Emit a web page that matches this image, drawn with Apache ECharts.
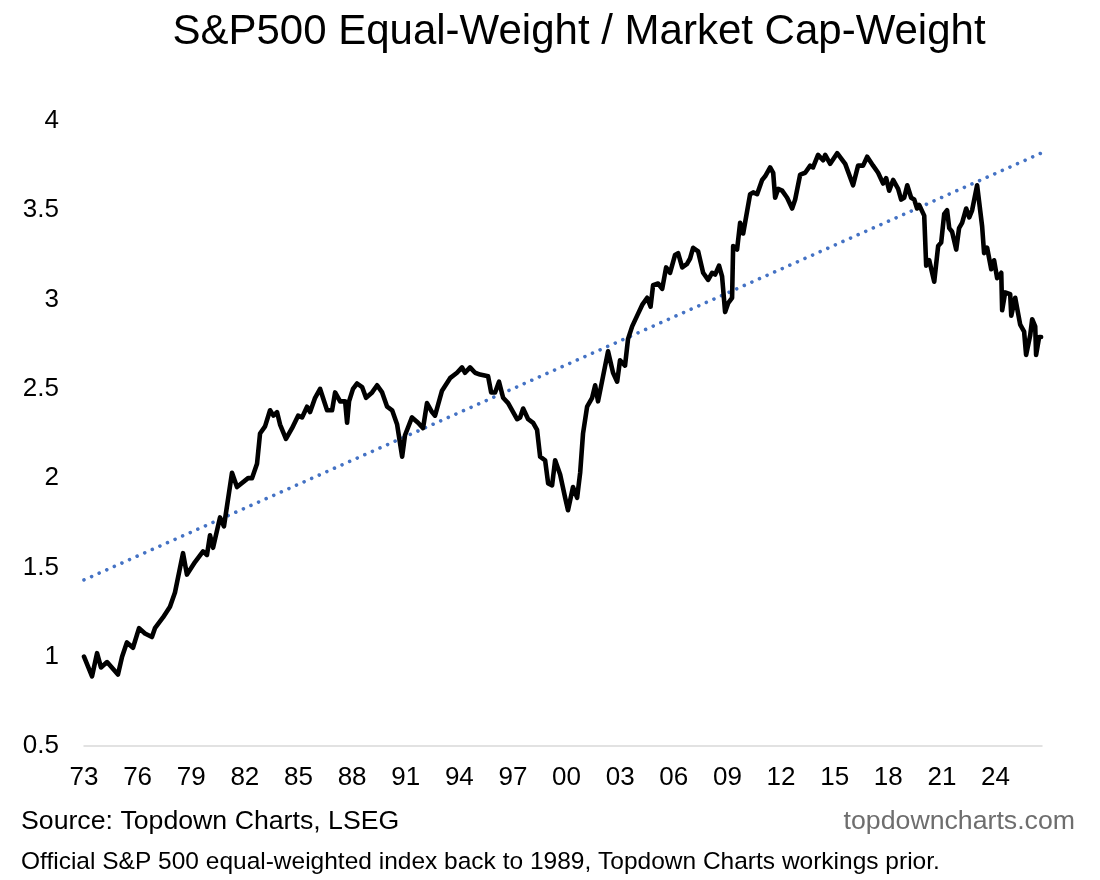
<!DOCTYPE html>
<html>
<head>
<meta charset="utf-8">
<script src="https://cdn.jsdelivr.net/npm/echarts@6/dist/echarts.min.js"></script>
<style>
html,body{margin:0;padding:0;background:#fff;}
#chart{width:1100px;height:880px;}
</style>
</head>
<body>
<div id="chart"></div>
<script>
// Decimal years of each reading
const years = [
 1973.0,1973.45,1973.73,1973.95,1974.29,1974.9,1975.13,1975.4,1975.74,1976.08,1976.41,1976.8,1976.97,
 1977.42,1977.81,1978.09,1978.54,1978.76,1979.21,1979.66,1979.88,1980.05,1980.22,1980.61,1980.83,
 1981.28,1981.56,1982.18,1982.4,1982.68,1982.85,1983.13,1983.41,1983.6,1983.8,1983.97,1984.30,1984.64,
 1984.98,1985.2,1985.48,1985.65,1985.93,1986.21,1986.37,1986.6,1986.88,1987.05,1987.33,1987.61,1987.72,
 1987.83,1988.05,1988.28,1988.56,1988.78,1989.12,1989.4,1989.68,1989.96,1990.24,1990.52,1990.8,1990.96,
 1991.35,1991.69,1991.97,1992.19,1992.47,1992.64,1993.03,1993.48,1993.87,1994.15,1994.32,1994.6,1994.88,
 1995.16,1995.61,1995.78,1996.0,1996.22,1996.45,1996.73,1997.01,1997.23,1997.4,1997.57,1997.85,1998.13,
 1998.35,1998.52,1998.8,1998.97,1999.19,1999.36,1999.64,1999.92,2000.08,2000.36,2000.59,2000.76,2000.92,
 2001.15,2001.43,2001.6,2001.76,2002.04,2002.32,2002.6,2002.83,2002.99,2003.27,2003.44,2003.67,2003.95,
 2004.23,2004.51,2004.7,2004.84,2005.12,2005.35,2005.57,2005.79,2006.07,2006.24,2006.47,2006.74,2006.91,
 2007.08,2007.36,2007.64,2007.92,2008.14,2008.31,2008.53,2008.7,2008.87,2009.04,2009.26,2009.32,2009.54,
 2009.71,2009.88,2010.27,2010.44,2010.66,2010.94,2011.11,2011.39,2011.56,2011.67,2011.84,2012.06,2012.34,
 2012.62,2012.79,2013.07,2013.35,2013.63,2013.79,2014.07,2014.35,2014.47,2014.75,2015.14,2015.59,2016.03,
 2016.31,2016.59,2016.82,2017.15,2017.43,2017.71,2017.88,2018.05,2018.27,2018.55,2018.72,2018.89,2019.06,
 2019.28,2019.45,2019.61,2019.73,2020.01,2020.12,2020.29,2020.57,2020.79,2020.96,2021.13,2021.29,2021.41,
 2021.57,2021.8,2021.96,2022.13,2022.36,2022.53,2022.69,2022.97,2023.25,2023.36,2023.53,2023.76,2023.92,
 2024.09,2024.32,2024.37,2024.54,2024.82,2024.88,2025.1,2025.38,2025.6,2025.71,2025.94,2026.05,2026.22,
 2026.27,2026.44,2026.55
];
// Equal-weight / cap-weight ratio
const ratio = [
 1.00,0.89,1.02,0.94,0.97,0.90,1.00,1.08,1.05,1.16,1.13,1.11,1.16,
 1.22,1.28,1.36,1.58,1.46,1.53,1.59,1.57,1.68,1.61,1.78,1.73,
 2.03,1.95,2.00,2.00,2.08,2.25,2.29,2.38,2.35,2.37,2.30,2.22,2.28,
 2.35,2.34,2.40,2.37,2.45,2.50,2.45,2.38,2.38,2.48,2.43,2.43,2.31,
 2.43,2.50,2.53,2.51,2.45,2.48,2.52,2.48,2.40,2.38,2.30,2.12,2.24,
 2.34,2.31,2.28,2.42,2.37,2.35,2.49,2.56,2.59,2.62,2.59,2.62,2.59,
 2.58,2.57,2.48,2.48,2.54,2.45,2.42,2.37,2.33,2.34,2.39,2.33,2.31,
 2.27,2.12,2.10,1.97,1.96,2.10,2.02,1.89,1.82,1.95,1.89,2.03,2.25,
 2.40,2.45,2.52,2.43,2.57,2.71,2.59,2.54,2.66,2.63,2.78,2.85,2.91,
 2.97,3.01,2.96,3.08,3.09,3.06,3.18,3.15,3.25,3.26,3.18,3.20,3.23,
 3.29,3.27,3.15,3.11,3.15,3.14,3.19,3.13,2.93,2.98,3.01,3.30,3.28,
 3.43,3.37,3.59,3.60,3.59,3.67,3.69,3.74,3.71,3.57,3.62,3.61,3.57,
 3.51,3.56,3.70,3.71,3.75,3.74,3.81,3.78,3.81,3.76,3.82,3.76,3.64,
 3.75,3.75,3.80,3.75,3.71,3.65,3.68,3.61,3.67,3.62,3.56,3.57,3.64,
 3.57,3.56,3.51,3.53,3.47,3.19,3.22,3.10,3.30,3.32,3.48,3.50,3.40,
 3.38,3.28,3.40,3.43,3.51,3.46,3.50,3.64,3.41,3.26,3.29,3.17,3.22,
 3.12,3.15,2.94,3.04,3.03,2.91,3.01,2.86,2.82,2.69,2.80,2.89,2.85,
 2.69,2.79,2.79
];
// Linear trend endpoints
const trendYears = [1973.0, 2026.55];
const trendValues = [1.43, 3.82];
// Axis settings
const BASE_YEAR = 1973;
const X_END_YEAR = 2026.6;
const yTicks = [0.5, 1, 1.5, 2, 2.5, 3, 3.5, 4];

const FONT = "'Liberation Sans', Arial, sans-serif";
const chart = echarts.init(document.getElementById('chart'), null, {renderer: 'canvas'});

const lineData = years.map((y, i) => [y - BASE_YEAR, ratio[i]]);
const trendData = trendYears.map((y, i) => [y - BASE_YEAR, trendValues[i]]);

chart.setOption({
  animation: false,
  backgroundColor: '#ffffff',
  grid: {left: 84, right: 58, top: 121, bottom: 134, containLabel: false, outerBoundsMode: 'none'},
  xAxis: {
    type: 'value',
    min: 0,
    max: X_END_YEAR - BASE_YEAR,
    interval: 3,
    axisLine: {show: true, lineStyle: {color: '#d9d9d9', width: 1.5}},
    axisTick: {show: false},
    splitLine: {show: false},
    axisLabel: {
      showMaxLabel: false,
      margin: 19,
      fontSize: 26,
      fontFamily: FONT,
      color: '#000',
      formatter: v => {
        if (Math.abs(v % 3) > 1e-6) return '';
        const yr = Math.round(BASE_YEAR + v) % 100;
        return (yr < 10 ? '0' : '') + yr;
      }
    }
  },
  yAxis: {
    type: 'value',
    min: yTicks[0],
    max: yTicks[yTicks.length - 1],
    interval: 0.5,
    axisLine: {show: false},
    axisTick: {show: false},
    splitLine: {show: false},
    axisLabel: {margin: 25, fontSize: 26, fontFamily: FONT, color: '#000'}
  },
  series: [
    {
      type: 'line',
      data: trendData,
      symbol: 'none',
      z: 1,
      lineStyle: {color: '#4472C4', width: 3.6, type: [0.01, 8.3], cap: 'round'}
    },
    {
      type: 'line',
      data: lineData,
      symbol: 'none',
      z: 2,
      lineStyle: {color: '#000000', width: 4.6, join: 'round', cap: 'round'}
    }
  ],
  graphic: [
    {type: 'text', x: 579, y: 32, style: {text: 'S&P500 Equal-Weight / Market Cap-Weight', fontSize: 42, fontFamily: FONT, fill: '#000', textAlign: 'center', textVerticalAlign: 'middle'}},
    {type: 'text', x: 21, y: 822, style: {text: 'Source: Topdown Charts, LSEG', fontSize: 26.7, fontFamily: FONT, fill: '#000', textAlign: 'left', textVerticalAlign: 'middle'}},
    {type: 'text', x: 1075, y: 822, style: {text: 'topdowncharts.com', fontSize: 26.7, fontFamily: FONT, fill: '#6e6e6e', textAlign: 'right', textVerticalAlign: 'middle'}},
    {type: 'text', x: 21, y: 862, style: {text: 'Official S&P 500 equal-weighted index back to 1989, Topdown Charts workings prior.', fontSize: 24.5, fontFamily: FONT, fill: '#000', textAlign: 'left', textVerticalAlign: 'middle'}}
  ]
});
</script>
</body>
</html>
